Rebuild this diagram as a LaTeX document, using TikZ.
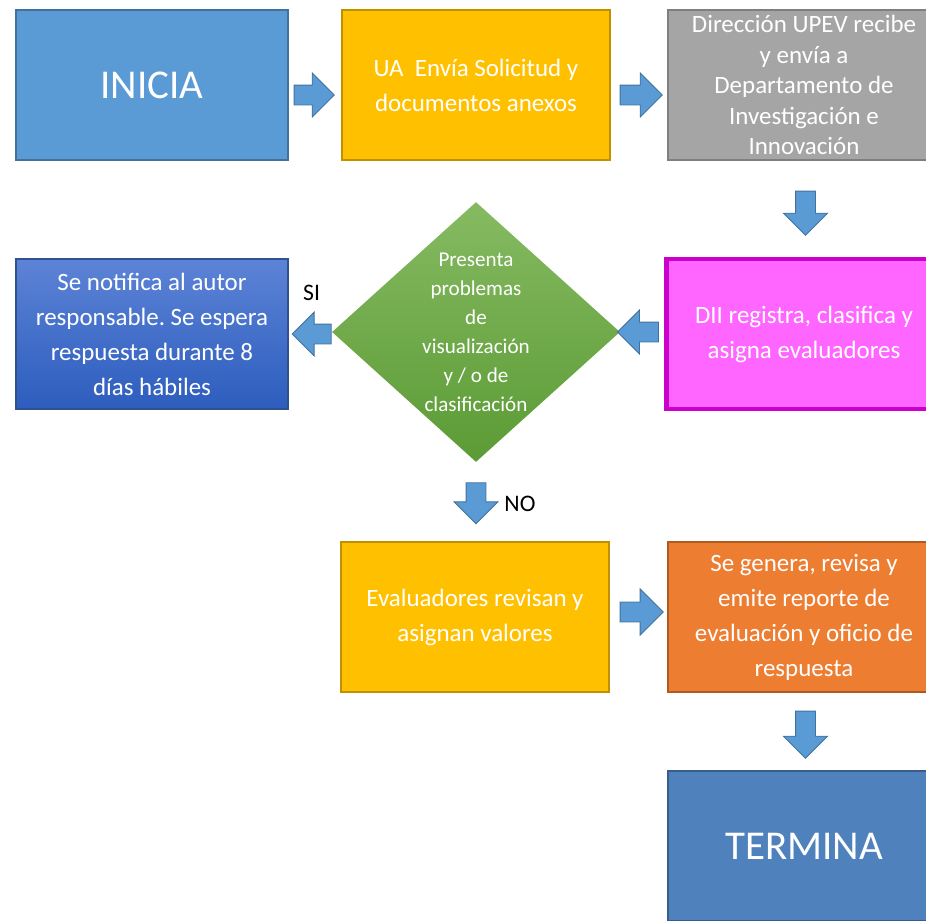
\documentclass[tikz,border=0pt]{standalone}
\usepackage{fontspec}
\setmainfont{Carlito}
\usetikzlibrary{shapes.geometric,shapes.arrows,calc}
\frenchspacing

\definecolor{azul}{HTML}{5B9BD5}
\definecolor{azulborde}{HTML}{41719C}
\definecolor{amarillo}{HTML}{FFC000}
\definecolor{amarilloborde}{HTML}{BF9000}
\definecolor{gris}{HTML}{A5A5A5}
\definecolor{grisborde}{HTML}{7F7F7F}
\definecolor{rosa}{HTML}{FF66FF}
\definecolor{rosaborde}{HTML}{CC00CC}
\definecolor{naranja}{HTML}{ED7D31}
\definecolor{naranjaborde}{HTML}{AE5A21}
\definecolor{azulfin}{HTML}{4F81BD}
\definecolor{azulfinborde}{HTML}{385D8A}
\definecolor{azularriba}{HTML}{5C83D6}
\definecolor{azulabajo}{HTML}{2D5DBE}
\definecolor{azulnotaborde}{HTML}{2F528F}
\definecolor{verdearriba}{HTML}{86BA62}
\definecolor{verdeabajo}{HTML}{5B9B35}

\begin{document}
\begin{tikzpicture}[x=0.2mm,y=-0.2mm,
  caja/.style={rectangle, draw, line width=0.8pt, text=white, align=center,
    inner sep=0pt, minimum width=54.4mm, minimum height=30mm,
    font=\fontsize{14.2}{19.9}\selectfont},
  grande/.style={font=\fontsize{23.3}{28}\selectfont},
  flecha/.style={single arrow, anchor=tail, draw=azulborde, fill=azul, line width=0.5pt,
    minimum height=8.4mm, minimum width=8.6mm,
    single arrow head extend=2.4mm, inner xsep=0pt, inner ysep=1.9mm},
  etiqueta/.style={font=\fontsize{13.5}{15}\selectfont}]

  \clip (0,0) rectangle (926,920);

  \node[caja, grande, fill=azul, draw=azulborde] (inicia) at (152,85) {INICIA};
  \node[caja, fill=amarillo, draw=amarilloborde, minimum width=53.6mm] (ua) at (476,85)
    {UA\ \ Envía Solicitud y\\documentos anexos};
  \node[caja, fill=gris, draw=grisborde, font=\fontsize{14.2}{17.4}\selectfont] (upev) at (804,85)
    {Dirección UPEV recibe\\y envía a\\Departamento de\\Investigación e\\Innovación};

  \node[caja, top color=azularriba, bottom color=azulabajo, draw=azulnotaborde] (notifica) at (152,334)
    {Se notifica al autor\\responsable. Se espera\\respuesta durante 8\\días hábiles};
  \node[diamond, top color=verdearriba, bottom color=verdeabajo, minimum width=57.6mm,
    minimum height=52mm, inner sep=0pt] (decide) at (476,332) {};
  \node[align=center, text=white, font=\fontsize{12}{16.5}\selectfont] (pregunta) at (decide.center)
    {Presenta\\problemas\\de\\visualización\\y / o de\\clasificación};
  \node[caja, fill=rosa, draw=rosaborde, line width=2.3pt, minimum width=55mm] (registra) at (804,334)
    {DII registra, clasifica y\\asigna evaluadores};

  \node[caja, fill=amarillo, draw=amarilloborde, minimum width=53.6mm] (evalua) at (475,617)
    {Evaluadores revisan y\\asignan valores};
  \node[caja, fill=naranja, draw=naranjaborde] (reporte) at (804,617)
    {Se genera, revisa y\\emite reporte de\\evaluación y oficio de\\respuesta};
  \node[caja, grande, fill=azulfin, draw=azulfinborde, line width=1.5pt] (termina) at (804,846) {TERMINA};

  % flechas
  \node[flecha, minimum height=8mm] (f1) at ($(inicia.east)+(5,10)$) {};
  \node[flecha] (f2) at ($(ua.east)+(9,10)$) {};
  \node[flecha, rotate=-90, minimum height=8.8mm] (f3) at ($(upev.south)+(1.5,30)$) {};
  \node[flecha, rotate=180, minimum height=8.2mm] (f4) at ($(registra.west)+(-5.5,-2)$) {};
  \node[flecha, rotate=180, minimum height=7.8mm] (f5) at ($(decide.west)+(0,2)$) {};
  \node[flecha, rotate=-90, minimum height=8.2mm] (f6) at ($(decide.south)+(0,20)$) {};
  \node[flecha, minimum height=8.6mm, minimum width=9.2mm, single arrow head extend=2.6mm]
    (f7) at ($(evalua.east)+(10,-5)$) {};
  \node[flecha, rotate=-90, minimum height=9.4mm] (f8) at ($(reporte.south)+(1.5,18)$) {};

  \node[etiqueta] (si) at ($(f5.tip)+(20,-41)$) {SI};
  \node[etiqueta] (no) at ($(f6.tip)+(44,-21)$) {NO};

\end{tikzpicture}
\end{document}
